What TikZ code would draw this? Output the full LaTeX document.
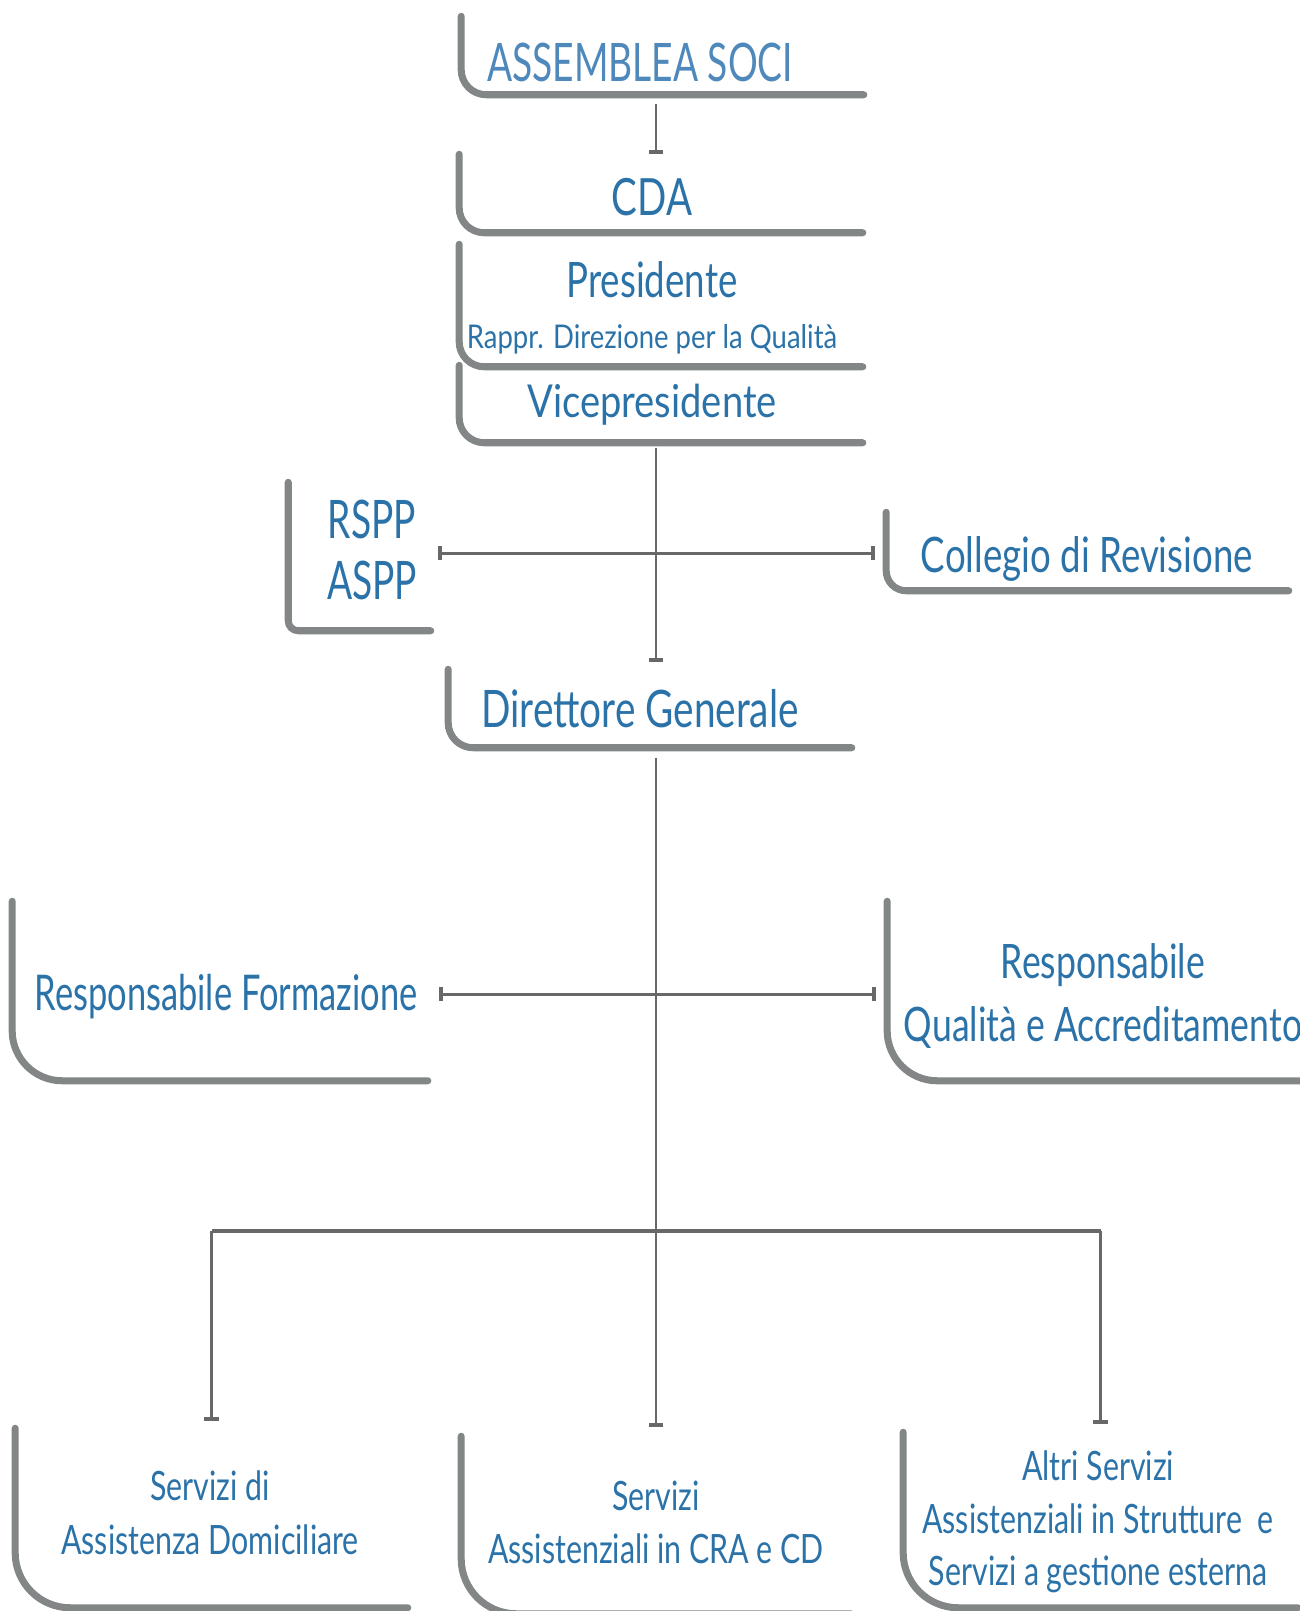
\documentclass[tikz,border=0pt]{standalone}
\usepackage{fontspec}
\setmainfont{Lato}[FakeStretch=0.75]
\newfontfamily\stretta{Lato}[FakeStretch=0.7]
\newfontfamily\larga{Lato}[FakeStretch=0.84]
\usetikzlibrary{arrows.meta}

\definecolor{blu}{HTML}{2A72A8}
\definecolor{blutenue}{HTML}{4F88BB}
\definecolor{grigiotelaio}{HTML}{838686}
\definecolor{grigiolinea}{HTML}{676869}

\begin{document}
\begin{tikzpicture}[
        x=0.01cm, y=-0.01cm,
        riquadro/.style={
            rectangle,
            inner sep=0pt
        },
        telaio/.style={draw=grigiotelaio, line width=2pt, line cap=round},
        voce/.style={
            inner sep=0pt,
            align=center,
            text=blu
        },
        linea/.style={draw=grigiolinea, line width=0.85pt},
        fine/.style={-{Bar[width=4pt, line width=1.1pt]}},
        dorsale/.style={draw=grigiolinea, line width=1.4pt}
    ]
        \useasboundingbox (0,0) rectangle (1299,1611);

        \coordinate (asse) at (656,0);
        \coordinate (incrocio1) at (656,553);
        \coordinate (incrocio2) at (656,994);
        \coordinate (sbarra) at (656,1231);

        % riquadri
        \node[riquadro, minimum width=4.01cm, minimum height=0.77cm] (assemblea) at (662.5,55.5) {};
        \node[riquadro, minimum width=4.02cm, minimum height=0.77cm] (cda) at (661,193.5) {};
        \node[riquadro, minimum width=4.02cm, minimum height=1.21cm] (presidente) at (661,305.5) {};
        \node[riquadro, minimum width=4.02cm, minimum height=0.76cm] (vice) at (661,404) {};
        \node[riquadro, minimum width=1.41cm, minimum height=1.47cm] (rspp) at (359.5,556.5) {};
        \node[riquadro, minimum width=4.01cm, minimum height=0.77cm] (collegio) at (1087.5,551.5) {};
        \node[riquadro, minimum width=4.02cm, minimum height=0.77cm] (direttore) at (650,708.5) {};
        \node[riquadro, minimum width=4.14cm, minimum height=1.78cm] (formazione) at (220,991) {};
        \node[riquadro, minimum width=4.22cm, minimum height=1.78cm] (qualita) at (1099,991) {};
        \node[riquadro, minimum width=3.91cm, minimum height=1.78cm] (domiciliare) at (211.5,1518) {};
        \node[riquadro, minimum width=3.88cm, minimum height=1.76cm] (cra) at (656,1525) {};
        \node[riquadro, minimum width=3.93cm, minimum height=1.74cm] (altri) at (1100.5,1520) {};

        \draw[telaio, rounded corners=0.25cm] (assemblea.north west) |- (assemblea.south east);
        \draw[telaio, rounded corners=0.25cm] (cda.north west) |- (cda.south east);
        \draw[telaio, rounded corners=0.25cm] (presidente.north west) |- (presidente.south east);
        \draw[telaio, rounded corners=0.25cm] (vice.north west) |- (vice.south east);
        \draw[telaio, rounded corners=0.1cm] (rspp.north west) |- (rspp.south east);
        \draw[telaio, rounded corners=0.2cm] (collegio.north west) |- (collegio.south east);
        \draw[telaio, rounded corners=0.25cm] (direttore.north west) |- (direttore.south east);
        \draw[telaio, rounded corners=0.5cm] (formazione.north west) |- (formazione.south east);
        \draw[telaio, rounded corners=0.5cm] (qualita.north west) |- (qualita.south east);
        \draw[telaio, rounded corners=0.55cm] (domiciliare.north west) |- (domiciliare.south east);
        \draw[telaio, rounded corners=0.55cm] (cra.north west) |- (cra.south east);
        \draw[telaio, rounded corners=0.55cm] (altri.north west) |- (altri.south east);

        % testi
        \node[voce, anchor=base, text=blutenue, font=\stretta\fontsize{15.1}{18}\selectfont] (assemblea-t) at (640,81) {ASSEMBLEA SOCI};
        \node[voce, anchor=base, font=\fontsize{14.6}{18}\selectfont] (cda-t) at (652,215) {CDA};
        \node[voce, anchor=base, font=\fontsize{13.9}{17}\selectfont] (presidente-t) at (652,297) {Presidente};
        \node[voce, anchor=base, font=\larga\fontsize{9.3}{11}\selectfont] (rappr-t) at (652,348) {Rappr. Direzione per la Qualità};
        \node[voce, anchor=base, font=\larga\fontsize{12.9}{16}\selectfont] (vice-t) at (652,417) {Vicepresidente};
        \node[voce, font=\stretta\fontsize{15.1}{17.6}\selectfont] (rspp-t) at (372,550) {RSPP\\ASPP};
        \node[voce, anchor=base, font=\fontsize{13.9}{17}\selectfont] (collegio-t) at (1087,572) {Collegio di Revisione};
        \node[voce, anchor=base, font=\fontsize{14.7}{18}\selectfont] (direttore-t) at (640,727) {Direttore Generale};
        \node[voce, anchor=base, font=\stretta\fontsize{14}{17}\selectfont] (formazione-t) at (226,1010) {Responsabile Formazione};
        \node[voce, font=\fontsize{13.5}{17.9}\selectfont] (qualita-t) at (1103,996) {Responsabile\\Qualità e Accreditamento};
        \node[voce, font=\fontsize{11.5}{15.4}\selectfont] (domiciliare-t) at (210,1513) {Servizi di\\Assistenza Domiciliare};
        \node[voce, font=\fontsize{11.5}{15.1}\selectfont] (cra-t) at (656,1522) {Servizi\\Assistenziali in CRA e CD};
        \node[voce, font=\fontsize{11.5}{14.9}\selectfont] (altri-t) at (1098,1522) {Altri Servizi\\Assistenziali in Strutture\ \ e\\Servizi a gestione esterna};

        % collegamenti
        \draw[linea, fine, shorten <=0.09cm] (assemblea.south -| asse) -- (cda.north -| asse);
        \draw[linea, fine, shorten <=0.05cm, shorten >=0.07cm] (vice.south -| asse) -- (direttore.north -| asse);
        \draw[linea, {Bar[width=4pt, line width=1.1pt]}-{Bar[width=4pt, line width=1.1pt]}, shorten <=0.07cm, shorten >=0.11cm] (rspp.east |- incrocio1) -- (collegio.west |- incrocio1);
        \draw[linea, {Bar[width=4pt, line width=1.1pt]}-{Bar[width=4pt, line width=1.1pt]}, shorten <=0.11cm, shorten >=0.11cm] (formazione.east |- incrocio2) -- (qualita.west |- incrocio2);
        \draw[linea, fine, shorten <=0.1cm, shorten >=0.09cm] (direttore.south -| asse) -- (cra.north -| asse);
        \draw[dorsale] (domiciliare.north |- sbarra) -- (altri.north |- sbarra);
        \draw[linea, fine, shorten >=0.07cm] (domiciliare.north |- sbarra) -- (domiciliare.north);
        \draw[linea, fine, shorten >=0.08cm] (altri.north |- sbarra) -- (altri.north);
    \end{tikzpicture}
\end{document}
